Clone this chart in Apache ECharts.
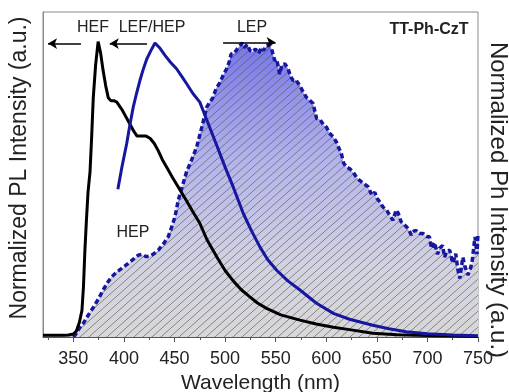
<!DOCTYPE html>
<html>
<head>
<meta charset="utf-8">
<script src="https://cdn.jsdelivr.net/npm/echarts@6/dist/echarts.min.js"></script>
<style>
  html, body { margin: 0; padding: 0; background: #fff; }
  #chart { width: 509px; height: 392px; }
</style>
</head>
<body>
<div id="chart"></div>
<script>
// HEF: prompt fluorescence of TT-Ph-CzT (black)
const hefWl = [320,330,340,345,350,353,356,358.5,360,361.5,363,364.5,366.5,368,369.7,372,374.5,377,379.5,382,384.5,387,390,393,396,398,402,406,410,413,418,422,426,430,434,438,443,448,455,462,468,475,482,492,500,508,516,524.5,532,541,555,574,590,607,623,646,670,700,725,750];
const hefInt = [0.006,0.006,0.006,0.007,0.01,0.02,0.05,0.09,0.17,0.30,0.40,0.49,0.56,0.67,0.81,0.92,1.0,0.96,0.90,0.85,0.81,0.80,0.80,0.795,0.78,0.77,0.745,0.72,0.695,0.68,0.68,0.68,0.672,0.655,0.63,0.60,0.57,0.54,0.50,0.46,0.425,0.385,0.33,0.27,0.225,0.19,0.16,0.136,0.115,0.097,0.075,0.057,0.044,0.033,0.025,0.013,0.008,0.005,0.003,0.002];

// LEF/HEP emission (blue solid)
const lefWl = [394,398,402.7,406,409.2,412.5,415.8,419,422.5,426,430.7,435,440.6,446,452,457,462,468,475,483,491.6,500,508,518,526,534.4,542,551,562,574,590,607,623,646,662,679,700,725,750];
const lefInt = [0.50,0.575,0.654,0.72,0.778,0.825,0.868,0.905,0.94,0.965,0.995,0.98,0.953,0.93,0.908,0.883,0.857,0.825,0.795,0.725,0.65,0.575,0.508,0.418,0.36,0.305,0.262,0.226,0.19,0.159,0.115,0.08,0.06,0.04,0.028,0.018,0.011,0.007,0.004];

// Phosphorescence spectrum, HEP shoulder + LEP band (blue dashed, filled)
const lepWl = [350,353,356,359.8,364,369.7,375,379.6,384,388,393,397.8,402,406,410,414.2,418,422,425.7,430,434,439,443.8,447,450.4,453.7,458.6,462,467,471.9,477,481.8,485,488,491,495,498,501.5,504,506,509,512,514.7,517,519,522,524.5,527,530,533,536,538,541,543,546,549,551,554,556,559,562,565,567.3,570,574,577,580.6,584,587,589,590.5,594,597,600.3,603,607,610,612,615,617,620,623,626.6,630,633,637,641.5,645,648,650,653,656,659.6,663,666,669,671,674,677,679.4,682,684,687,689,692,695.8,699,702,704,707,710,712,715,717,719,722,725,728,730,732,735,737,740,742,744,747,749,750];
const lepInt = [0.0,0.012,0.03,0.046,0.07,0.10,0.13,0.16,0.185,0.204,0.22,0.232,0.243,0.254,0.265,0.277,0.28,0.272,0.274,0.283,0.294,0.315,0.339,0.37,0.406,0.463,0.52,0.56,0.60,0.643,0.71,0.778,0.795,0.81,0.84,0.862,0.885,0.908,0.93,0.958,0.96,0.975,0.986,0.995,0.98,0.99,0.97,0.965,0.975,0.96,0.98,0.97,0.986,0.99,0.975,0.936,0.94,0.89,0.92,0.925,0.91,0.88,0.868,0.87,0.85,0.83,0.81,0.80,0.79,0.76,0.74,0.735,0.72,0.71,0.69,0.677,0.66,0.643,0.62,0.59,0.575,0.57,0.558,0.54,0.53,0.52,0.508,0.48,0.49,0.47,0.457,0.44,0.43,0.41,0.395,0.43,0.42,0.39,0.38,0.373,0.36,0.345,0.36,0.36,0.35,0.35,0.34,0.339,0.30,0.32,0.28,0.30,0.31,0.27,0.29,0.294,0.25,0.282,0.23,0.198,0.27,0.24,0.21,0.226,0.25,0.339,0.28,0.35];

// Axis ticks and labels
const majorTicks = [350,400,450,500,550,600,650,700,750];
const minorTicks = [325,375,425,475,525,575,625,675,725];

const pairs = (xs, ys) => xs.map((x, i) => [x, ys[i]]);

const FONT = "'Liberation Sans', Arial, sans-serif";
const DARK_BLUE = '#16169e';

// Diagonal hatch tile for the phosphorescence area
function hatchTile() {
  const w = 9, h = 8;
  const c = document.createElement('canvas');
  c.width = w; c.height = h;
  const ctx = c.getContext('2d');
  ctx.strokeStyle = 'rgba(85,85,85,0.7)';
  ctx.lineWidth = 0.9;
  for (const dx of [-w, 0, w]) {
    ctx.beginPath();
    ctx.moveTo(dx, h);
    ctx.lineTo(dx + w, 0);
    ctx.stroke();
  }
  return c;
}

const chart = echarts.init(document.getElementById('chart'), null, { renderer: 'canvas' });

const gridBox = { left: 43, right: 31, top: 12, bottom: 55, outerBoundsMode: 'none', containLabel: false };

const option = {
  animation: false,
  backgroundColor: '#fff',
  grid: [
    Object.assign({ show: true, borderColor: '#8a8a8a', borderWidth: 1, backgroundColor: 'transparent' }, gridBox),
    Object.assign({ show: false }, gridBox)
  ],
  xAxis: [
    {
      type: 'value', gridIndex: 0, min: 320, max: 750,
      axisLine: { show: true, lineStyle: { color: '#555', width: 1 } },
      axisTick: { show: true, length: 5, inside: false, customValues: majorTicks, lineStyle: { color: '#555' } },
      axisLabel: { show: true, customValues: majorTicks, margin: 13, color: '#222', fontSize: 18, fontFamily: FONT },
      splitLine: { show: false },
      name: 'Wavelength (nm)', nameLocation: 'middle', nameGap: 31,
      nameTextStyle: { color: '#222', fontSize: 21, fontFamily: FONT }
    },
    {
      type: 'value', gridIndex: 1, min: 320, max: 750,
      axisLine: { show: false },
      axisTick: { show: true, length: 3, customValues: minorTicks, lineStyle: { color: '#555' } },
      axisLabel: { show: false },
      splitLine: { show: false }
    }
  ],
  yAxis: [
    {
      type: 'value', gridIndex: 0, min: 0, max: 1.1,
      axisLine: { show: true, lineStyle: { color: '#8a8a8a' } },
      axisTick: { show: false }, axisLabel: { show: false }, splitLine: { show: false }
    },
    {
      type: 'value', gridIndex: 1, min: 0, max: 1.1, show: false
    }
  ],
  graphic: [
    {
      type: 'text', x: 20, y: 168, rotation: Math.PI / 2,
      style: { text: 'Normalized PL Intensity (a.u.)', x: 0, y: 0, align: 'center', verticalAlign: 'middle', font: '23px ' + FONT, fill: '#222' }
    },
    {
      type: 'text', x: 498, y: 200, rotation: -Math.PI / 2,
      style: { text: 'Normalized Ph Intensity (a.u.)', x: 0, y: 0, align: 'center', verticalAlign: 'middle', font: '24px ' + FONT, fill: '#222' }
    },
    { type: 'text', x: 93, y: 28, style: { text: 'HEF', align: 'center', verticalAlign: 'middle', font: '16px ' + FONT, fill: '#222' } },
    { type: 'text', x: 152, y: 28, style: { text: 'LEF/HEP', align: 'center', verticalAlign: 'middle', font: '16px ' + FONT, fill: '#222' } },
    { type: 'text', x: 252, y: 28, style: { text: 'LEP', align: 'center', verticalAlign: 'middle', font: '16px ' + FONT, fill: '#222' } },
    { type: 'text', x: 429, y: 30, style: { text: 'TT-Ph-CzT', align: 'center', verticalAlign: 'middle', font: 'bold 16px ' + FONT, fill: '#222' } },
    { type: 'text', x: 133, y: 233, style: { text: 'HEP', align: 'center', verticalAlign: 'middle', font: '16px ' + FONT, fill: '#222' } }
  ],
  series: [
    {
      // gradient fill under the phosphorescence spectrum
      type: 'line', xAxisIndex: 0, yAxisIndex: 0, data: pairs(lepWl, lepInt),
      showSymbol: false, silent: true, z: 1,
      lineStyle: { width: 0 },
      areaStyle: {
        opacity: 1,
        color: new echarts.graphic.LinearGradient(0, 0, 0, 1, [
          { offset: 0, color: '#7676e6' },
          { offset: 0.4, color: '#b4b4ec' },
          { offset: 0.75, color: '#d2d2e2' },
          { offset: 1, color: '#d8d8d8' }
        ])
      }
    },
    {
      // diagonal hatch over the fill
      type: 'line', xAxisIndex: 0, yAxisIndex: 0, data: pairs(lepWl, lepInt),
      showSymbol: false, silent: true, z: 2,
      lineStyle: { width: 0 },
      areaStyle: { opacity: 1, color: { image: hatchTile(), repeat: 'repeat' } }
    },
    {
      // dashed outline of the phosphorescence spectrum
      type: 'line', xAxisIndex: 0, yAxisIndex: 0, data: pairs(lepWl, lepInt),
      showSymbol: false, silent: true, z: 3,
      lineStyle: { color: DARK_BLUE, width: 3.5, type: [5, 3] }
    },
    {
      type: 'line', xAxisIndex: 0, yAxisIndex: 0, data: pairs(hefWl, hefInt),
      showSymbol: false, silent: true, z: 4,
      lineStyle: { color: '#000', width: 3 },
      markLine: {
        silent: true, symbol: ['none', 'arrow'], symbolSize: [8, 9],
        label: { show: false },
        lineStyle: { color: '#000', width: 1.5, type: 'solid' },
        data: [
          [{ coord: [357.5, 0.993] }, { coord: [325, 0.993] }],
          [{ coord: [422.8, 0.993] }, { coord: [386, 0.993] }],
          [{ coord: [498, 0.997] }, { coord: [550, 0.997] }]
        ]
      }
    },
    {
      type: 'line', xAxisIndex: 0, yAxisIndex: 0, data: pairs(lefWl, lefInt),
      showSymbol: false, silent: true, z: 5,
      lineStyle: { color: DARK_BLUE, width: 3 }
    }
  ]
};

chart.setOption(option);
</script>
</body>
</html>
